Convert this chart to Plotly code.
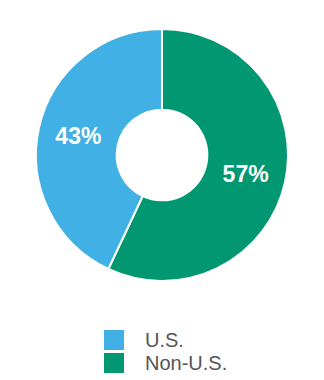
import plotly.graph_objects as go

labels = ["U.S.", "Non-U.S."]
values = [43, 57]
colors = ["#41B0E4", "#009771"]

W, H = 324, 380
cx, cy, r = 162, 155, 126

fig = go.Figure(go.Pie(
    labels=labels[::-1], values=values[::-1], sort=False, direction="clockwise",
    rotation=0, hole=0.36,
    marker=dict(colors=colors[::-1], line=dict(color="white", width=2)),
    texttemplate="%{value}%", textposition="inside", insidetextorientation="horizontal",
    textfont=dict(family="Liberation Sans, Arial", size=23, color="white", weight="bold"),
    domain=dict(x=[(cx - r) / W, (cx + r) / W], y=[(H - cy - r) / H, (H - cy + r) / H]),
    showlegend=False, hoverinfo="label+percent",
))

shapes, annotations = [], []
y0 = 330
for i, (lab, col) in enumerate(zip(labels, colors)):
    top = y0 + i * 23
    shapes.append(dict(type="rect", xref="paper", yref="paper",
                       x0=104 / W, x1=124 / W, y0=1 - (top + 20) / H, y1=1 - top / H,
                       fillcolor=col, line=dict(width=0)))
    annotations.append(dict(text=lab, xref="paper", yref="paper", x=143 / W, y=1 - (top + 10) / H,
                            xanchor="left", yanchor="middle", showarrow=False,
                            font=dict(family="Liberation Sans, Arial", size=20, color="#555555")))

fig.update_layout(width=W, height=H, margin=dict(l=0, r=0, t=0, b=0),
                  paper_bgcolor="white", plot_bgcolor="white",
                  shapes=shapes, annotations=annotations)
fig.write_html("out.html")
